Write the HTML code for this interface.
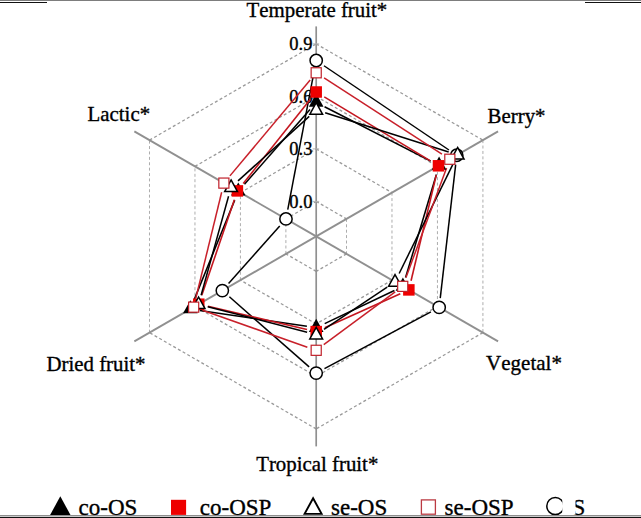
<!DOCTYPE html>
<html><head><meta charset="utf-8"><title>Radar</title>
<style>
html,body{margin:0;padding:0;background:#fff;}
body{width:641px;height:518px;position:relative;overflow:hidden;font-family:"Liberation Serif",serif;color:#000;}
.ln{position:absolute;}
</style></head><body>
<div class="ln" style="left:0;top:0;width:641px;height:1px;background:#7d7d7d"></div>
<div class="ln" style="left:0;top:2px;width:47px;height:1px;background:#111"></div>
<div class="ln" style="left:585px;top:2px;width:56px;height:1px;background:#111"></div>
<svg width="641" height="518" viewBox="0 0 641 518" style="position:absolute;left:0;top:0">
<line x1="316.20" y1="201.40" x2="346.51" y2="218.90" stroke="#9a9a9a" stroke-width="1.3" stroke-dasharray="3 2.4"/>
<line x1="346.51" y1="218.90" x2="346.51" y2="253.90" stroke="#adadad" stroke-width="1" stroke-dasharray="3 2.4"/>
<line x1="346.51" y1="253.90" x2="316.20" y2="271.40" stroke="#9a9a9a" stroke-width="1.3" stroke-dasharray="3 2.4"/>
<line x1="316.20" y1="271.40" x2="285.89" y2="253.90" stroke="#9a9a9a" stroke-width="1.3" stroke-dasharray="3 2.4"/>
<line x1="285.89" y1="253.90" x2="285.89" y2="218.90" stroke="#adadad" stroke-width="1" stroke-dasharray="3 2.4"/>
<line x1="285.89" y1="218.90" x2="316.20" y2="201.40" stroke="#9a9a9a" stroke-width="1.3" stroke-dasharray="3 2.4"/>
<line x1="316.20" y1="148.90" x2="391.98" y2="192.65" stroke="#9a9a9a" stroke-width="1.3" stroke-dasharray="3 2.4"/>
<line x1="391.98" y1="192.65" x2="391.98" y2="280.15" stroke="#adadad" stroke-width="1" stroke-dasharray="3 2.4"/>
<line x1="391.98" y1="280.15" x2="316.20" y2="323.90" stroke="#9a9a9a" stroke-width="1.3" stroke-dasharray="3 2.4"/>
<line x1="316.20" y1="323.90" x2="240.42" y2="280.15" stroke="#9a9a9a" stroke-width="1.3" stroke-dasharray="3 2.4"/>
<line x1="240.42" y1="280.15" x2="240.42" y2="192.65" stroke="#adadad" stroke-width="1" stroke-dasharray="3 2.4"/>
<line x1="240.42" y1="192.65" x2="316.20" y2="148.90" stroke="#9a9a9a" stroke-width="1.3" stroke-dasharray="3 2.4"/>
<line x1="316.20" y1="96.40" x2="437.44" y2="166.40" stroke="#9a9a9a" stroke-width="1.3" stroke-dasharray="3 2.4"/>
<line x1="437.44" y1="166.40" x2="437.44" y2="306.40" stroke="#adadad" stroke-width="1" stroke-dasharray="3 2.4"/>
<line x1="437.44" y1="306.40" x2="316.20" y2="376.40" stroke="#9a9a9a" stroke-width="1.3" stroke-dasharray="3 2.4"/>
<line x1="316.20" y1="376.40" x2="194.96" y2="306.40" stroke="#9a9a9a" stroke-width="1.3" stroke-dasharray="3 2.4"/>
<line x1="194.96" y1="306.40" x2="194.96" y2="166.40" stroke="#adadad" stroke-width="1" stroke-dasharray="3 2.4"/>
<line x1="194.96" y1="166.40" x2="316.20" y2="96.40" stroke="#9a9a9a" stroke-width="1.3" stroke-dasharray="3 2.4"/>
<line x1="316.20" y1="43.90" x2="482.91" y2="140.15" stroke="#9a9a9a" stroke-width="1.3" stroke-dasharray="3 2.4"/>
<line x1="482.91" y1="140.15" x2="482.91" y2="332.65" stroke="#adadad" stroke-width="1" stroke-dasharray="3 2.4"/>
<line x1="482.91" y1="332.65" x2="316.20" y2="428.90" stroke="#9a9a9a" stroke-width="1.3" stroke-dasharray="3 2.4"/>
<line x1="316.20" y1="428.90" x2="149.49" y2="332.65" stroke="#9a9a9a" stroke-width="1.3" stroke-dasharray="3 2.4"/>
<line x1="149.49" y1="332.65" x2="149.49" y2="140.15" stroke="#adadad" stroke-width="1" stroke-dasharray="3 2.4"/>
<line x1="149.49" y1="140.15" x2="316.20" y2="43.90" stroke="#9a9a9a" stroke-width="1.3" stroke-dasharray="3 2.4"/>
<line x1="316.20" y1="236.40" x2="316.20" y2="26.40" stroke="#909090" stroke-width="1.7"/>
<line x1="316.20" y1="236.40" x2="498.07" y2="131.40" stroke="#909090" stroke-width="1.9"/>
<line x1="316.20" y1="236.40" x2="498.07" y2="341.40" stroke="#909090" stroke-width="1.9"/>
<line x1="316.20" y1="236.40" x2="316.20" y2="446.40" stroke="#909090" stroke-width="1.7"/>
<line x1="316.20" y1="236.40" x2="134.33" y2="341.40" stroke="#909090" stroke-width="1.9"/>
<line x1="316.20" y1="236.40" x2="134.33" y2="131.40" stroke="#909090" stroke-width="1.9"/>
<line x1="312.70" y1="201.40" x2="319.20" y2="201.40" stroke="#b4b4b4" stroke-width="1"/>
<line x1="312.70" y1="148.90" x2="319.20" y2="148.90" stroke="#b4b4b4" stroke-width="1"/>
<line x1="312.70" y1="96.40" x2="319.20" y2="96.40" stroke="#b4b4b4" stroke-width="1"/>
<line x1="312.70" y1="43.90" x2="319.20" y2="43.90" stroke="#b4b4b4" stroke-width="1"/>
<text x="312.40" y="208.00" font-family="Liberation Serif, serif" font-size="18.5" text-anchor="end" fill="#000" stroke="#000" stroke-width="0.35" style="font-kerning:none">0.0</text>
<text x="312.40" y="155.00" font-family="Liberation Serif, serif" font-size="18.5" text-anchor="end" fill="#000" stroke="#000" stroke-width="0.35" style="font-kerning:none">0.3</text>
<text x="312.40" y="103.00" font-family="Liberation Serif, serif" font-size="18.5" text-anchor="end" fill="#000" stroke="#000" stroke-width="0.35" style="font-kerning:none">0.6</text>
<text x="312.40" y="50.00" font-family="Liberation Serif, serif" font-size="18.5" text-anchor="end" fill="#000" stroke="#000" stroke-width="0.35" style="font-kerning:none">0.9</text>
<line x1="323.99" y1="65.75" x2="448.96" y2="150.00" stroke="#000" stroke-width="1.50"/>
<line x1="455.68" y1="164.59" x2="440.25" y2="298.06" stroke="#000" stroke-width="1.50"/>
<line x1="430.88" y1="311.83" x2="324.49" y2="368.67" stroke="#000" stroke-width="1.50"/>
<line x1="309.14" y1="366.89" x2="229.38" y2="296.81" stroke="#000" stroke-width="1.50"/>
<line x1="228.57" y1="283.57" x2="279.73" y2="225.98" stroke="#000" stroke-width="1.50"/>
<line x1="287.74" y1="209.72" x2="314.44" y2="69.73" stroke="#000" stroke-width="1.50"/>
<line x1="324.57" y1="106.79" x2="430.72" y2="161.16" stroke="#000" stroke-width="1.55"/>
<line x1="436.39" y1="174.46" x2="405.58" y2="277.44" stroke="#000" stroke-width="1.55"/>
<line x1="394.40" y1="290.49" x2="324.69" y2="323.66" stroke="#000" stroke-width="1.55"/>
<line x1="306.90" y1="326.32" x2="199.66" y2="310.43" stroke="#000" stroke-width="1.55"/>
<line x1="193.91" y1="300.34" x2="234.71" y2="200.11" stroke="#000" stroke-width="1.55"/>
<line x1="244.45" y1="184.33" x2="310.00" y2="109.57" stroke="#000" stroke-width="1.55"/>
<line x1="324.25" y1="96.86" x2="430.43" y2="160.94" stroke="#c4161f" stroke-width="1.60"/>
<line x1="436.30" y1="174.94" x2="411.05" y2="280.76" stroke="#c4161f" stroke-width="1.60"/>
<line x1="400.29" y1="293.76" x2="324.77" y2="327.74" stroke="#c4161f" stroke-width="1.60"/>
<line x1="307.05" y1="329.46" x2="207.92" y2="306.34" stroke="#c4161f" stroke-width="1.60"/>
<line x1="201.80" y1="295.30" x2="234.36" y2="199.80" stroke="#c4161f" stroke-width="1.60"/>
<line x1="243.25" y1="183.55" x2="310.34" y2="99.35" stroke="#c4161f" stroke-width="1.60"/>
<line x1="325.16" y1="112.84" x2="448.66" y2="151.91" stroke="#000" stroke-width="1.50"/>
<line x1="453.47" y1="163.18" x2="399.16" y2="273.47" stroke="#000" stroke-width="1.50"/>
<line x1="387.19" y1="287.13" x2="324.01" y2="329.37" stroke="#000" stroke-width="1.50"/>
<line x1="307.10" y1="332.25" x2="207.70" y2="306.65" stroke="#000" stroke-width="1.50"/>
<line x1="201.11" y1="295.24" x2="228.56" y2="196.31" stroke="#000" stroke-width="1.50"/>
<line x1="238.03" y1="180.93" x2="309.24" y2="116.32" stroke="#000" stroke-width="1.50"/>
<line x1="324.09" y1="77.91" x2="441.94" y2="154.14" stroke="#c8202a" stroke-width="1.50"/>
<line x1="446.56" y1="168.06" x2="405.98" y2="277.54" stroke="#c8202a" stroke-width="1.50"/>
<line x1="395.16" y1="291.94" x2="323.76" y2="344.71" stroke="#c8202a" stroke-width="1.50"/>
<line x1="307.33" y1="347.18" x2="202.52" y2="310.27" stroke="#c8202a" stroke-width="1.50"/>
<line x1="195.88" y1="298.02" x2="221.66" y2="192.23" stroke="#c8202a" stroke-width="1.50"/>
<line x1="229.91" y1="175.89" x2="310.17" y2="80.01" stroke="#c8202a" stroke-width="1.50"/>
<circle cx="316.20" cy="60.50" r="6.15" fill="#fff" stroke="#000" stroke-width="1.5"/>
<circle cx="456.76" cy="155.25" r="6.15" fill="#fff" stroke="#000" stroke-width="1.5"/>
<circle cx="439.18" cy="307.40" r="6.15" fill="#fff" stroke="#000" stroke-width="1.5"/>
<circle cx="316.20" cy="373.10" r="6.15" fill="#fff" stroke="#000" stroke-width="1.5"/>
<circle cx="222.32" cy="290.60" r="6.15" fill="#fff" stroke="#000" stroke-width="1.5"/>
<circle cx="285.98" cy="218.95" r="6.15" fill="#fff" stroke="#000" stroke-width="1.5"/>
<polygon points="316.20,93.60 323.50,106.70 308.90,106.70" fill="#000"/>
<polygon points="439.09,156.55 446.39,169.65 431.79,169.65" fill="#000"/>
<polygon points="402.89,277.55 410.19,290.65 395.59,290.65" fill="#000"/>
<polygon points="316.20,318.80 323.50,331.90 308.90,331.90" fill="#000"/>
<polygon points="190.37,300.15 197.67,313.25 183.07,313.25" fill="#000"/>
<polygon points="238.26,182.50 245.56,195.60 230.96,195.60" fill="#000"/>
<rect x="310.45" y="86.25" width="11.50" height="11.50" fill="#ee0000"/>
<rect x="432.73" y="160.05" width="11.50" height="11.50" fill="#ee0000"/>
<rect x="403.11" y="284.15" width="11.50" height="11.50" fill="#ee0000"/>
<rect x="310.45" y="325.85" width="11.50" height="11.50" fill="#ee0000"/>
<rect x="193.02" y="298.45" width="11.50" height="11.50" fill="#ee0000"/>
<rect x="231.64" y="185.15" width="11.50" height="11.50" fill="#ee0000"/>
<polygon points="316.20,102.70 322.60,114.30 309.80,114.30" fill="#fff" stroke="#000" stroke-width="1.5"/>
<polygon points="457.62,147.45 464.02,159.05 451.22,159.05" fill="#fff" stroke="#000" stroke-width="1.5"/>
<polygon points="395.01,274.60 401.41,286.20 388.61,286.20" fill="#fff" stroke="#000" stroke-width="1.5"/>
<polygon points="316.20,327.30 322.60,338.90 309.80,338.90" fill="#fff" stroke="#000" stroke-width="1.5"/>
<polygon points="198.59,297.00 204.99,308.60 192.19,308.60" fill="#fff" stroke="#000" stroke-width="1.5"/>
<polygon points="231.07,179.95 237.47,191.55 224.67,191.55" fill="#fff" stroke="#000" stroke-width="1.5"/>
<rect x="311.15" y="67.75" width="10.10" height="10.10" fill="#fff" stroke="#c0202a" stroke-width="1.2"/>
<rect x="444.78" y="154.20" width="10.10" height="10.10" fill="#fff" stroke="#c0202a" stroke-width="1.2"/>
<rect x="397.67" y="281.30" width="10.10" height="10.10" fill="#fff" stroke="#c0202a" stroke-width="1.2"/>
<rect x="311.15" y="345.25" width="10.10" height="10.10" fill="#fff" stroke="#c0202a" stroke-width="1.2"/>
<rect x="188.61" y="302.10" width="10.10" height="10.10" fill="#fff" stroke="#c0202a" stroke-width="1.2"/>
<rect x="218.83" y="178.05" width="10.10" height="10.10" fill="#fff" stroke="#c0202a" stroke-width="1.2"/>
<text x="246.60" y="17.00" font-family="Liberation Serif, serif" font-size="20.85" text-anchor="start" fill="#000" stroke="#000" stroke-width="0.35" style="font-kerning:none">Temperate fruit*</text>
<text x="487.60" y="123.00" font-family="Liberation Serif, serif" font-size="20.85" text-anchor="start" fill="#000" stroke="#000" stroke-width="0.35" style="font-kerning:none">Berry*</text>
<text x="486.10" y="370.00" font-family="Liberation Serif, serif" font-size="21" text-anchor="start" fill="#000" stroke="#000" stroke-width="0.35" style="font-kerning:none">Vegetal*</text>
<text x="256.20" y="471.00" font-family="Liberation Serif, serif" font-size="20.85" text-anchor="start" fill="#000" stroke="#000" stroke-width="0.35" style="font-kerning:none">Tropical fruit*</text>
<text x="46.60" y="371.00" font-family="Liberation Serif, serif" font-size="20.8" text-anchor="start" fill="#000" stroke="#000" stroke-width="0.35" style="font-kerning:none">Dried fruit*</text>
<text x="87.60" y="121.00" font-family="Liberation Serif, serif" font-size="20.85" text-anchor="start" fill="#000" stroke="#000" stroke-width="0.35" style="font-kerning:none">Lactic*</text>
<polygon points="60.3,496.3 70.5,515 50.1,515" fill="#000"/>
<text x="78.60" y="514.60" font-family="Liberation Serif, serif" font-size="23" text-anchor="start" fill="#000" stroke="#000" stroke-width="0.35" style="font-kerning:none">co-OS</text>
<rect x="171" y="499.8" width="15.1" height="15.1" fill="#ee0000"/>
<text x="199.80" y="514.60" font-family="Liberation Serif, serif" font-size="23" text-anchor="start" fill="#000" stroke="#000" stroke-width="0.35" style="font-kerning:none">co-OSP</text>
<polygon points="313.1,498.2 321.6,513.85 304.6,513.85" fill="#fff" stroke="#000" stroke-width="1.9"/>
<text x="331.00" y="514.60" font-family="Liberation Serif, serif" font-size="23" text-anchor="start" fill="#000" stroke="#000" stroke-width="0.35" style="font-kerning:none">se-OS</text>
<rect x="421.4" y="499.9" width="14" height="14.3" fill="#fff" stroke="#bb3a42" stroke-width="1.3"/>
<text x="444.60" y="514.60" font-family="Liberation Serif, serif" font-size="23" text-anchor="start" fill="#000" stroke="#000" stroke-width="0.35" style="font-kerning:none">se-OSP</text>
<circle cx="555.3" cy="506.1" r="8.5" fill="#fff" stroke="#000" stroke-width="1.5"/>
<text x="572.60" y="514.60" font-family="Liberation Serif, serif" font-size="23" text-anchor="start" fill="#000" stroke="#000" stroke-width="0.35" style="font-kerning:none">S</text>
<rect x="562.3" y="490" width="13.2" height="24.5" fill="#fff"/>
</svg>
<svg width="641" height="4" style="position:absolute;left:0;top:514px"><rect x="0" y="1.25" width="641" height="1.1" fill="#6a6a6a"/></svg>
<div class="ln" style="left:0;top:517px;width:641px;height:1px;background:#111"></div>
</body></html>
